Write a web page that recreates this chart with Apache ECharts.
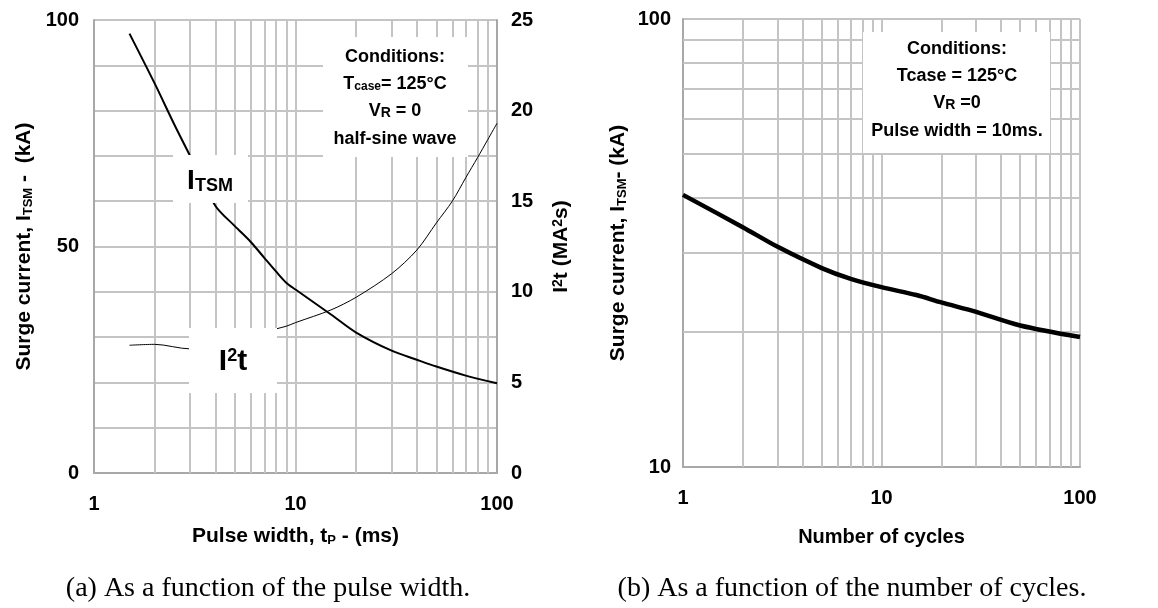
<!DOCTYPE html>
<html>
<head>
<meta charset="utf-8">
<script src="https://cdn.jsdelivr.net/npm/echarts@6/dist/echarts.min.js"></script>
<style>
html,body{margin:0;padding:0;background:#fff;}
#c{width:1158px;height:608px;}
</style>
</head>
<body>
<div id="c"></div>
<script>
// ---- data ----
const pulseWidth = [1.5, 2, 2.5, 3, 4, 5, 6, 7, 8, 9, 10, 15, 20, 30, 40, 50, 70, 100];
const itsmPulse  = [97, 86, 77, 70, 59, 54.5, 51, 47.5, 44.5, 42, 40.5, 35, 31, 27, 25, 23.5, 21.5, 19.8];
const i2tPulse   = [1.5, 2, 3, 4, 5, 6, 7, 8, 9, 10, 15, 20, 30, 40, 50, 60, 70, 80, 90, 100];
const i2tValues  = [7.05, 7.1, 6.85, 6.9, 7.2, 7.5, 7.7, 7.95, 8.1, 8.3, 9.0, 9.7, 11.0, 12.3, 13.8, 15.0, 16.3, 17.4, 18.4, 19.3];
const cycles     = [1, 2, 3, 5, 7, 10, 15, 20, 30, 50, 100];
const itsmCycles = [40.5, 34.3, 31, 27.8, 26.3, 25.2, 24.2, 23.3, 22.2, 20.7, 19.5];
const minorLogX  = [2, 3, 4, 5, 6, 7, 8, 9, 20, 30, 40, 50, 60, 70, 80, 90];
const minorLogY  = [20, 30, 40, 50, 60, 70, 80, 90];
const leftYLabels  = [0, 50, 100];
const rightYLabels = [0, 5, 10, 15, 20, 25];

const GRID = '#c4c4c4', AXIS = '#a8a8a8';
const FONT = 'Liberation Sans, Arial, sans-serif';
const lblStyle = {color: '#000', fontWeight: 'bold', fontSize: 20, fontFamily: FONT};
const sub = {fontSize: 12, fontWeight: 'bold', fontFamily: FONT, color: '#000', verticalAlign: 'bottom'};
const sup = {fontSize: 12, fontWeight: 'bold', fontFamily: FONT, color: '#000', verticalAlign: 'top'};

function pairs(xs, ys) { return xs.map((x, i) => [x, ys[i]]); }
const gridLine = {show: true, lineStyle: {color: GRID, width: 2}};
const axisLine = {show: true, lineStyle: {color: AXIS, width: 2}};

const chart = echarts.init(document.getElementById('c'), null, {renderer: 'canvas'});

const markX = (vals) => ({silent: true, symbol: 'none', label: {show: false},
  lineStyle: {color: GRID, width: 2, type: 'solid'}, emphasis: {disabled: true},
  data: vals.map(v => ({xAxis: v}))});
const markY = (vals) => ({silent: true, symbol: 'none', label: {show: false},
  lineStyle: {color: GRID, width: 2, type: 'solid'}, emphasis: {disabled: true},
  data: vals.map(v => ({yAxis: v}))});

function boxText(x, y, lines, w, h, z) {
  return [
    {type: 'rect', z: z, shape: {x: x, y: y, width: w, height: h}, style: {fill: '#fff'}, silent: true}
  ].concat(lines.map(l => ({
    type: 'text', z: z + 1, x: l.x, y: l.y, silent: true,
    style: {text: l.t, x: 0, y: 0, align: 'center', verticalAlign: 'middle',
      font: 'bold ' + (l.fs || 18) + 'px ' + FONT, fill: '#000',
      rich: {sub: Object.assign({}, sub, l.sub || {}), sup: Object.assign({}, sup, l.sup || {})}}
  })));
}

const titleStyle = (fs, extra) => Object.assign({color: '#000', fontWeight: 'bold', fontSize: fs, fontFamily: FONT}, extra || {});

const option = {
  animation: false,
  backgroundColor: '#fff',
  grid: [
    {left: 94, top: 20, width: 403, height: 453, containLabel: false},
    {left: 683, top: 19, width: 397, height: 448, containLabel: false}
  ],
  xAxis: [
    {type: 'log', gridIndex: 0, logBase: 10, min: 1, max: 100,
      axisLine: axisLine, axisTick: {show: false}, splitLine: gridLine,
      axisLabel: Object.assign({margin: 21}, lblStyle),
      name: 'Pulse width, t{sub|P} - (ms)', nameLocation: 'middle', nameGap: 53,
      nameTextStyle: titleStyle(21, {rich: {sub: Object.assign({}, sub, {fontSize: 13})}})},
    {type: 'log', gridIndex: 1, logBase: 10, min: 1, max: 100,
      axisLine: axisLine, axisTick: {show: false}, splitLine: gridLine,
      axisLabel: Object.assign({margin: 21}, lblStyle),
      name: 'Number of cycles', nameLocation: 'middle', nameGap: 60,
      nameTextStyle: titleStyle(20)}
  ],
  yAxis: [
    {type: 'value', gridIndex: 0, min: 0, max: 100, interval: 10,
      axisLine: axisLine, axisTick: {show: false}, splitLine: gridLine,
      axisLabel: Object.assign({margin: 15, formatter: v => leftYLabels.includes(v) ? String(v) : ''}, lblStyle),
      name: 'Surge current, I{sub|TSM} -  (kA)', nameLocation: 'middle', nameGap: 59, nameRotate: 90,
      nameTextStyle: titleStyle(21, {rich: {sub: Object.assign({}, sub, {fontSize: 13})}})},
    {type: 'value', gridIndex: 0, min: 0, max: 25, interval: 2.5, position: 'right',
      axisLine: axisLine, axisTick: {show: false}, splitLine: {show: false},
      axisLabel: Object.assign({margin: 14, formatter: v => rightYLabels.includes(v) ? String(v) : ''}, lblStyle),
      name: 'I{sup|2}t (MA{sup|2}s)', nameLocation: 'middle', nameGap: 54, nameRotate: 90,
      nameTextStyle: titleStyle(21, {rich: {sup: Object.assign({}, sup, {fontSize: 14})}})},
    {type: 'log', gridIndex: 1, logBase: 10, min: 10, max: 100,
      axisLine: axisLine, axisTick: {show: false}, splitLine: gridLine,
      axisLabel: Object.assign({margin: 12}, lblStyle),
      name: 'Surge current, I{sub|TSM}- (kA)', nameLocation: 'middle', nameGap: 54, nameRotate: 90,
      nameTextStyle: titleStyle(21, {rich: {sub: Object.assign({}, sub, {fontSize: 13})}})}
  ],
  series: [
    {type: 'line', xAxisIndex: 0, yAxisIndex: 0, data: [], z: 1, markLine: markX(minorLogX)},
    {type: 'line', xAxisIndex: 1, yAxisIndex: 2, data: [], z: 1, markLine: markX(minorLogX)},
    {type: 'line', xAxisIndex: 1, yAxisIndex: 2, data: [], z: 1, markLine: markY(minorLogY)},
    {name: 'ITSM', type: 'line', xAxisIndex: 0, yAxisIndex: 0, data: pairs(pulseWidth, itsmPulse),
      smooth: 0.3, showSymbol: false, z: 5, lineStyle: {color: '#000', width: 2}},
    {name: 'I2t', type: 'line', xAxisIndex: 0, yAxisIndex: 1, data: pairs(i2tPulse, i2tValues),
      smooth: 0.3, showSymbol: false, z: 5, lineStyle: {color: '#000', width: 1}},
    {name: 'ITSM cycles', type: 'line', xAxisIndex: 1, yAxisIndex: 2, data: pairs(cycles, itsmCycles),
      smooth: 0.3, showSymbol: false, z: 5, lineStyle: {color: '#000', width: 4.5}}
  ],
  graphic: [].concat(
    boxText(323, 37, [
      {x: 395, y: 57, t: 'Conditions:'},
      {x: 395, y: 84, t: 'T{sub|case}= 125°C'},
      {x: 395, y: 111, t: 'V{sub|R} = 0', sub: {fontSize: 14}},
      {x: 395, y: 139, t: 'half-sine wave'}
    ], 145, 120, 100),
    boxText(173, 155, [
      {x: 210, y: 181, t: 'I{sub|TSM}', fs: 28, sub: {fontSize: 18}}
    ], 75, 48, 100),
    boxText(189, 328, [
      {x: 233, y: 362, t: 'I{sup|2}t', fs: 30, sup: {fontSize: 18}}
    ], 88, 65, 100),
    boxText(863, 32, [
      {x: 957, y: 49, t: 'Conditions:'},
      {x: 957, y: 76, t: 'Tcase = 125°C'},
      {x: 957, y: 103, t: 'V{sub|R} =0', sub: {fontSize: 14}},
      {x: 957, y: 131, t: 'Pulse width = 10ms.'}
    ], 187, 121, 100),
    [
      {type: 'text', x: 268, y: 589, z: 100, silent: true,
        style: {text: '(a) As a function of the pulse width.', align: 'center', verticalAlign: 'middle',
          font: '28px "Liberation Serif", serif', fill: '#000'}},
      {type: 'text', x: 852, y: 589, z: 100, silent: true,
        style: {text: '(b) As a function of the number of cycles.', align: 'center', verticalAlign: 'middle',
          font: '28px "Liberation Serif", serif', fill: '#000'}}
    ]
  )
};
chart.setOption(option);
</script>
</body>
</html>
